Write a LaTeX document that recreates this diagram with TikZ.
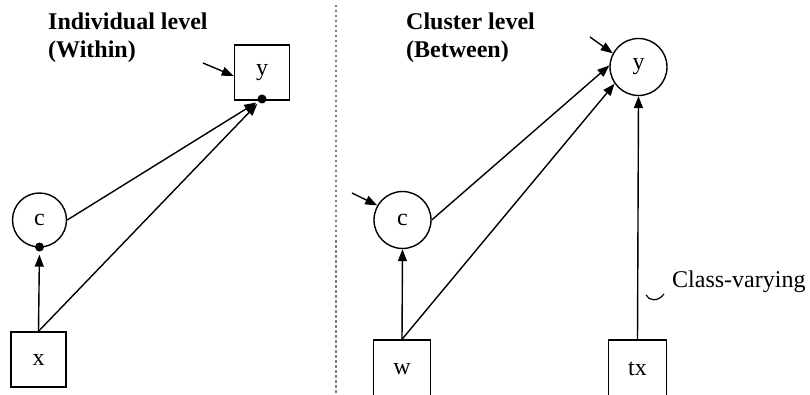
\documentclass[tikz,border=0pt]{standalone}
\usepackage{fontspec}
\setmainfont{Liberation Serif}
\usetikzlibrary{arrows.meta}
\begin{document}
\begin{tikzpicture}[x=1pt,y=-1pt,
  every node/.style={font=\fontsize{24}{28}\selectfont},
  obsbox/.style={draw,line width=1.4pt,minimum size=55pt,inner sep=0pt},
  latcirc/.style={draw,circle,line width=1.4pt,minimum size=#1,inner sep=0pt},
  dotnode/.style={circle,fill=black,minimum size=9pt,inner sep=0pt},
  conn/.style={line width=1.4pt,-{Triangle[length=12pt,width=9pt]}},
  titletext/.style={font=\fontsize{24}{28}\selectfont\bfseries,align=left,anchor=north west,inner sep=0pt},
  divider/.style={gray,line width=1.2pt,dash pattern=on 2.5pt off 2.5pt}
]
\useasboundingbox (0,0) rectangle (810,395);
\clip (0,0) rectangle (810,395);
% titles
\node[titletext] (t1) at (48,13) {Individual level\\(Within)};
\node[titletext] (t2) at (406,13) {Cluster level\\(Between)};
% divider
\coordinate (d1) at (336,5);
\coordinate (d2) at (336,395);
\draw[divider] (d1) -- (d2);
% within
\node[obsbox] (wy) at (262,72.5) {y};
\node[dotnode] (wyd) at (262,99) {};
\node[latcirc=54pt] (wc) at (39.5,220) {c};
\node[dotnode] (wcd) at (39.5,247) {};
\node[obsbox] (wx) at (38.5,359.5) {x};
\coordinate (wyr) at (203,63);
\draw[conn] (wyr) -- (wy.west |- 0,76);
\draw[conn,shorten >=3pt] (wx.north) -- (wcd);
\draw[conn,shorten >=2pt] (wc.east) -- (wyd);
\draw[conn,shorten >=2pt] (wx.north) -- (wyd);
% between
\node[latcirc=57pt] (by) at (638.5,67) {y};
\node[latcirc=57pt] (bc) at (402.5,220) {c};
\node[obsbox,minimum width=57pt,minimum height=58pt] (bw) at (402,369) {w};
\node[obsbox,minimum width=58pt,minimum height=58pt] (btx) at (637.5,369) {tx};
\coordinate (byr) at (590,37);
\coordinate (bcr) at (352,193);
\draw[conn] (byr) -- (by.152);
\draw[conn] (bcr) -- (bc.150);
\draw[conn] (bw.north) -- (bc.south);
\draw[conn] (bc.east) -- (by.177);
\draw[conn] (bw.north) -- (by.215);
\draw[conn] (btx.north) -- (by.south);
% class-varying label
\node[anchor=base west,inner sep=0pt] (cv) at (672,287) {Class-varying};
\coordinate (cva) at (646,295);
\coordinate (cvb) at (664,294);
\draw[line width=1.2pt] (cva) .. controls (649,301) and (658,302) .. (cvb);
\end{tikzpicture}
\end{document}
